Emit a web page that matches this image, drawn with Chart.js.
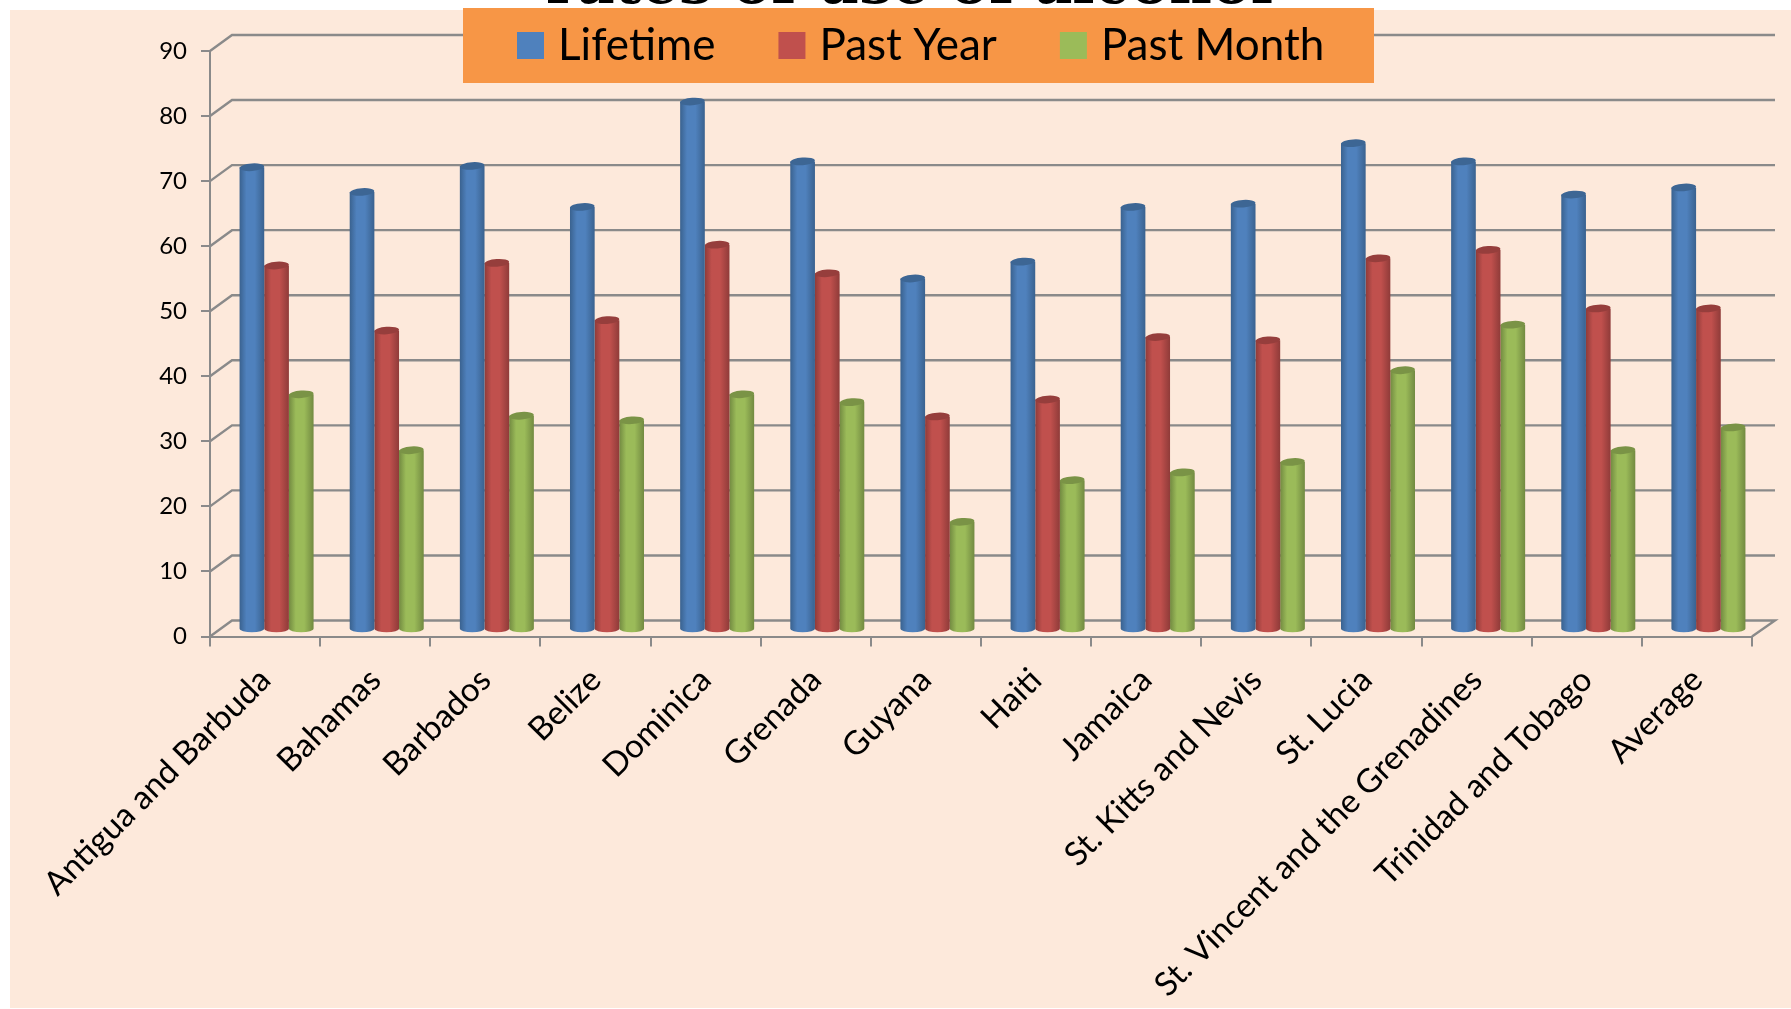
<!DOCTYPE html>
<html><head><meta charset="utf-8">
<style>html,body{margin:0;padding:0;background:#fff}canvas{display:block}</style>
<script src="https://cdn.jsdelivr.net/npm/chart.js@4"></script>
</head><body>
<canvas id="c" width="1791" height="1009" style="width:1791px;height:1009px"></canvas>
<script>
const titleText = "rates of use of alcohol";
const categories = ["Antigua and Barbuda","Bahamas","Barbados","Belize","Dominica","Grenada","Guyana","Haiti","Jamaica","St. Kitts and Nevis","St. Lucia","St. Vincent and the Grenadines","Trinidad and Tobago","Average"];
const lifetime  = [70.9,67.1,71.1,64.8,81.0,71.8,53.8,56.4,64.8,65.3,74.6,71.8,66.7,67.8];
const pastYear  = [55.8,45.8,56.2,47.4,59.0,54.6,32.6,35.2,44.8,44.3,56.9,58.2,49.2,49.2];
const pastMonth = [36.0,27.4,32.7,32.0,36.0,34.8,16.4,22.8,24.0,25.6,39.7,46.7,27.4,30.9];
const yTicks = [0,10,20,30,40,50,60,70,80,90];

const DEPTH_X = 22, DEPTH_Y = 16;
const GRID = '#8a8a8a';

class CylinderBar extends Chart.BarElement {
  draw(ctx){
    const {x,y,base,width} = this.getProps(['x','y','base','width']);
    const o = this.options;
    const dx = DEPTH_X/2 + 0.5, dy = -DEPTH_Y/2;
    const l = x - width/2 + dx, r = x + width/2 + dx;
    const cx = x + dx, top = y + dy, bot = base + dy + 1;
    const ry = 3.8, tilt = -0.07;
    const g = ctx.createLinearGradient(l,0,r,0);
    g.addColorStop(0, o.sideColor);
    g.addColorStop(0.28, o.backgroundColor);
    g.addColorStop(0.62, o.backgroundColor);
    g.addColorStop(1, o.sideColor);
    ctx.save();
    ctx.fillStyle = g;
    ctx.beginPath();
    ctx.moveTo(l, top);
    ctx.lineTo(l, bot);
    ctx.ellipse(cx, bot, width/2, ry, 0, Math.PI, 0, true);
    ctx.lineTo(r, top);
    ctx.closePath();
    ctx.fill();
    ctx.fillStyle = o.capColor;
    ctx.beginPath();
    ctx.ellipse(cx, top, width/2, ry, tilt, 0, Math.PI*2);
    ctx.fill();
    ctx.restore();
  }
}
CylinderBar.id = 'cylinderBar';
CylinderBar.defaults = {...Chart.BarElement.defaults, sideColor:'#000', capColor:'#000'};
class CylinderController extends Chart.BarController {}
CylinderController.id = 'cylinder';
CylinderController.defaults = {...Chart.BarController.defaults, dataElementType:'cylinderBar'};
CylinderController.overrides = Chart.BarController.overrides;
Chart.register(CylinderBar, CylinderController);

const LEGEND_PAD = 71;
const stage = {
  id:'stage',
  beforeLayout(chart){
    const lg = chart.legend;
    if(lg && !lg._wrapped){
      const f = lg.fit;
      lg.fit = function(){ f.call(this); this.height=0; };
      lg._wrapped = true;
    }
  },
  afterLayout(chart){
    const lg = chart.legend;
    lg.left = 525-LEGEND_PAD; lg.right = 1500; lg.top = 23.5-LEGEND_PAD; lg.bottom = 83; lg.width = lg.right-lg.left; lg.height = lg.bottom-lg.top;
  },
  beforeDraw(chart){
    const {ctx, scales:{y}, chartArea:a} = chart;
    ctx.save();
    ctx.fillStyle = '#fde9db';
    ctx.fillRect(10,10,1781,998);
    ctx.strokeStyle = GRID;
    ctx.lineWidth = 2.4;
    y.ticks.forEach(t=>{
      const py = y.getPixelForValue(t.value);
      ctx.beginPath();
      ctx.moveTo(a.left, py);
      ctx.lineTo(a.left+DEPTH_X, py-DEPTH_Y);
      ctx.lineTo(a.right+DEPTH_X+1, py-DEPTH_Y);
      if(t.value===0) ctx.lineTo(a.right, py);
      ctx.stroke();
    });
    ctx.fillStyle = '#f79646';
    ctx.fillRect(463,8,911,75);
    ctx.fillStyle = '#000';
    ctx.font = 'bold 58.5px "DejaVu Serif"';
    ctx.textBaseline = 'alphabetic';
    ctx.textAlign = 'left';
    ctx.fillText(titleText, 546, 3);
    ctx.restore();
  }
};

const series = [
  {label:'Lifetime',  data:lifetime,  backgroundColor:'#4f81bd', sideColor:'#3a628f', capColor:'#3d6694', borderColor:'#4f81bd'},
  {label:'Past Year', data:pastYear,  backgroundColor:'#c0504d', sideColor:'#8f3b39', capColor:'#963e3c', borderColor:'#c0504d'},
  {label:'Past Month',data:pastMonth, backgroundColor:'#9bbb59', sideColor:'#728a41', capColor:'#7a9346', borderColor:'#9bbb59'}
];

new Chart(document.getElementById('c'),{
  type:'cylinder',
  data:{labels:categories,datasets:series},
  plugins:[stage],
  options:{
    responsive:false,animation:false,
    categoryPercentage:0.672,barPercentage:1,
    layout:{padding:{top:51,right:39,left:0,bottom:0}},
    plugins:{
      title:{display:false},tooltip:{enabled:false},
      legend:{
        display:true,position:'top',align:'start',
        labels:{usePointStyle:true,pointStyle:'rect',boxWidth:11,boxHeight:27,padding:LEGEND_PAD,color:'#000',font:{family:'Lato',size:44}}
      }
    },
    scales:{
      x:{
        type:'category',offset:true,
        grid:{display:true,offset:true,drawOnChartArea:false,drawTicks:true,tickLength:10,color:GRID,lineWidth:2},
        border:{display:true,color:GRID,width:2},
        ticks:{color:'#000',font:{family:'Lato',size:33},minRotation:45,maxRotation:45,autoSkip:false,padding:14},
        afterFit(s){ s.height = 1009-636.5; }
      },
      y:{
        min:0,max:90,
        afterBuildTicks(s){ s.ticks = yTicks.map(v=>({value:v})); },
        grid:{display:true,drawOnChartArea:false,drawTicks:true,tickLength:9,color:GRID,lineWidth:2},
        border:{display:true,color:GRID,width:2},
        ticks:{color:'#000',font:{family:'Lato',size:24},padding:14},
        afterFit(s){ s.width = 210; }
      }
    }
  }
});
</script>
</body></html>
